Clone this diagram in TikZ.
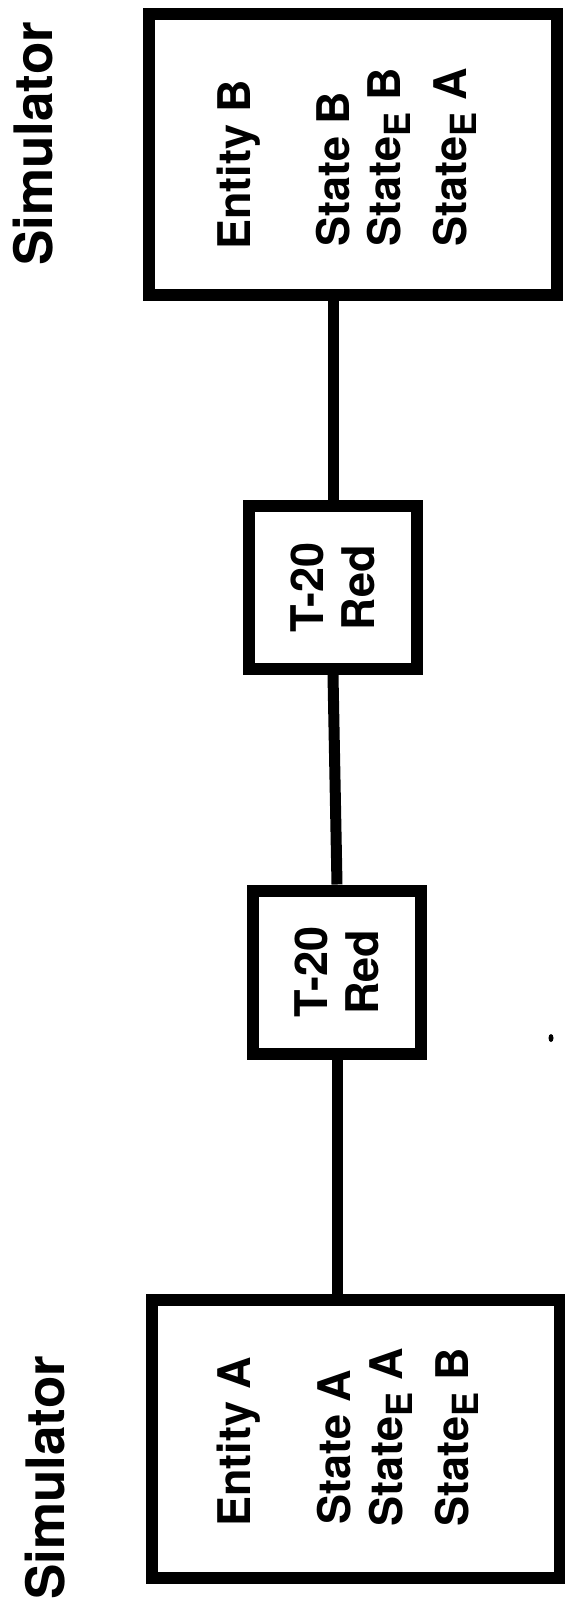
\documentclass[tikz,border=0pt]{standalone}
\usepackage{fontspec}
\setmainfont{TeX Gyre Heros}
\newcommand{\subE}{\raisebox{-10pt}{\fontsize{36}{36}\selectfont E}}
\begin{document}
\begin{tikzpicture}[x=1pt,y=1pt,
  bigbox/.style={draw=black, line width=12pt, inner sep=0pt, fill=white},
  tbox/.style={draw=black, line width=12pt, inner sep=0pt, fill=white, minimum width=168pt, minimum height=163pt},
  wire/.style={draw=black, line width=11pt},
  vtext/.style={rotate=90, anchor=base west, inner sep=0pt, font=\bfseries\fontsize{45}{51}\selectfont},
  simtext/.style={rotate=90, anchor=base west, inner sep=0pt, font=\bfseries\fontsize{53}{60}\selectfont},
  ttext/.style={rotate=90, align=center, inner sep=0pt, font=\bfseries\fontsize{45}{51}\selectfont}]
\useasboundingbox[fill=white] (0,0) rectangle (565,-1612);

% simulator boxes
\node[bigbox, minimum width=408pt, minimum height=281pt] (B) at (353,-154.5) {};
\node[bigbox, minimum width=408pt, minimum height=278pt] (A) at (356,-1439) {};

% T-20 boxes
\node[tbox] (t1) at (333,-587.5) {};
\node[tbox] (t2) at (337,-972) {};

% connectors
\draw[wire] (t1.north) -- (t1.north |- B.south);
\draw[wire] (t1.south) -- (t2.north);
\draw[wire] (t2.south) -- (t2.south |- A.north);

% labels
\node[simtext] (simB) at (52,-266) {Simulator};
\node[simtext] (simA) at (64,-1600) {Simulator};

\node[vtext] (eB) at (250,-250) {Entity B};
\node[vtext] (sB1) at (349,-247) {State B};
\node[vtext] (sB2) at (400,-247) {State\subE\ B};
\node[vtext] (sB3) at (466,-247) {State\subE\ A};

\node[vtext] (eA) at (250,-1527) {Entity A};
\node[vtext] (sA1) at (350,-1525) {State A};
\node[vtext] (sA2) at (402,-1527) {State\subE\ A};
\node[vtext] (sA3) at (468,-1527) {State\subE\ B};

\node[ttext] (t1l) at (t1) {T-20\\Red};
\node[ttext] (t2l) at (t2) {T-20\\Red};

% small speck
\fill[black] (551,-1038) ellipse (2.5pt and 4pt);
\end{tikzpicture}
\end{document}
